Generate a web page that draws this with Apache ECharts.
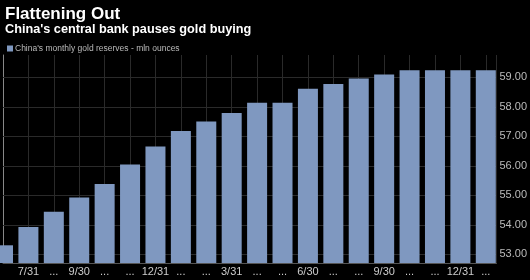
<!DOCTYPE html>
<html>
<head>
<meta charset="utf-8">
<script src="https://cdn.jsdelivr.net/npm/echarts@6/dist/echarts.min.js"></script>
<style>
  html, body { margin: 0; padding: 0; background: #000; }
  #chart { width: 530px; height: 280px; }
</style>
</head>
<body>
<div id="chart"></div>
<script>
// month ends, Jun 2015 .. Jan 2017
const monthLabels = ['', '7/31', '...', '9/30', '...', '...', '12/31', '...', '...', '3/31',
    '...', '...', '6/30', '...', '...', '9/30', '...', '...', '12/31', '...'];
// China's monthly gold reserves, mln ounces
const reserves = [53.31, 53.93, 54.45, 54.93, 55.39, 56.05, 56.66, 57.18, 57.51, 57.79,
    58.14, 58.14, 58.62, 58.78, 58.96, 59.10, 59.24, 59.24, 59.24, 59.24];
// horizontal grid lines
const yTicks = [53, 54, 55, 56, 57, 58, 59];

var chart = echarts.init(document.getElementById('chart'), null, {
    width: 530,
    height: 280
});

const font = "'Liberation Sans', Arial, sans-serif";
const gridColor = '#2a2a2a';

option = {
    backgroundColor: '#000',
    animation: false,
    title: {
        text: 'Flattening Out',
        subtext: "China's central bank pauses gold buying",
        left: 0,
        top: 1,
        itemGap: 0,
        textStyle: {
            color: '#fff',
            fontFamily: font,
            fontSize: 17,
            fontWeight: 'bold'
        },
        subtextStyle: {
            color: '#fff',
            fontFamily: font,
            fontSize: 12.7,
            fontWeight: 'bold'
        }
    },
    legend: {
        data: ["China's monthly gold reserves - mln ounces"],
        left: 2,
        top: 39,
        icon: 'rect',
        itemWidth: 6,
        itemHeight: 6,
        itemGap: 4,
        textStyle: {
            color: '#bbb',
            fontFamily: font,
            fontSize: 8.5,
            padding: [0, 0, 0, -3]
        }
    },
    grid: {
        left: 3,
        right: 30,
        top: 55,
        bottom: 17,
        containLabel: false
    },
    xAxis: {
        type: 'value',
        min: 0,
        max: 19.42,
        interval: 1,
        axisLine: {
            show: true,
            lineStyle: { color: '#555' }
        },
        axisTick: { show: false },
        axisLabel: {
            color: '#ccc',
            fontFamily: font,
            fontSize: 11,
            margin: 3,
            showMaxLabel: false,
            formatter: function (v) {
                return Number.isInteger(v) ? (monthLabels[v] || '') : '';
            }
        },
        splitLine: {
            show: true,
            lineStyle: { color: gridColor }
        }
    },
    yAxis: {
        type: 'value',
        position: 'right',
        min: 52.71,
        max: 59.76,
        splitNumber: 7,
        axisLine: {
            show: true,
            lineStyle: { color: '#888' }
        },
        axisTick: {
            show: true,
            length: 3,
            lineStyle: { color: '#aaa' }
        },
        axisLabel: {
            color: '#bbb',
            fontFamily: font,
            fontSize: 11,
            margin: 3,
            showMinLabel: false,
            showMaxLabel: false,
            formatter: function (v) {
                return v.toFixed(2);
            }
        },
        splitLine: { show: false }
    },
    series: [{
        name: "China's monthly gold reserves - mln ounces",
        type: 'bar',
        barWidth: 20,
        clip: true,
        z: 2,
        itemStyle: { color: '#7f98c0' },
        data: reserves.map(function (v, i) { return [i, v]; }),
        markLine: {
            silent: true,
            z: 1,
            symbol: 'none',
            label: { show: false },
            lineStyle: { color: gridColor, type: 'solid', width: 1 },
            emphasis: { disabled: true },
            data: yTicks.map(function (t) { return { yAxis: t }; })
        }
    }]
};

chart.setOption(option);
</script>
</body>
</html>
